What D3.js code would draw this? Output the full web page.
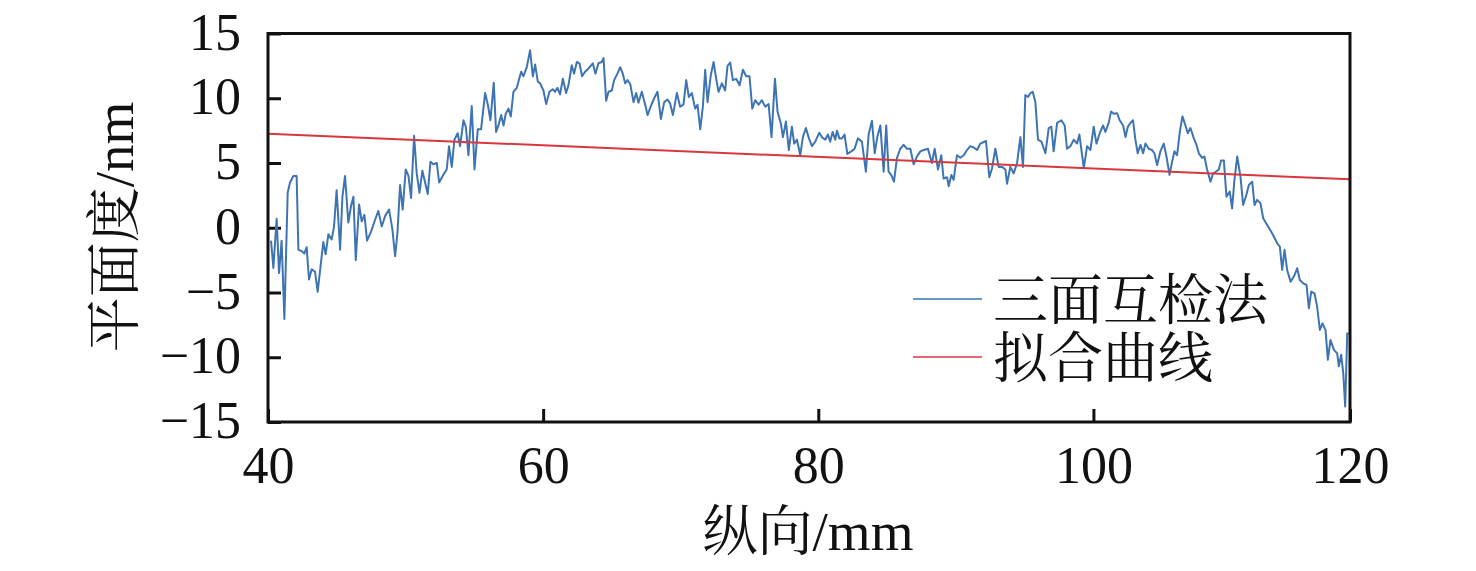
<!DOCTYPE html>
<html>
<head>
<meta charset="utf-8">
<script src="https://cdn.jsdelivr.net/npm/d3@7"></script>
<style>
  body { margin: 0; background: #fff; }
  text { font-family: "Liberation Serif", "Noto Serif CJK SC", "Noto Sans CJK SC", serif; fill: #111; }
</style>
</head>
<body>
<div id="chart"></div>
<script>
// flatness profile: position along the part (mm) and deviation (nm)
const profileMm = [
  40.22, 40.39, 40.63, 40.80, 40.99, 41.19, 41.43, 41.60, 41.84, 42.08,
  42.21, 42.45, 42.64, 42.81, 42.98, 43.18, 43.42, 43.61, 43.85, 44.02,
  44.19, 44.39, 44.63, 44.80, 44.99, 45.24, 45.41, 45.60, 45.84, 46.04,
  46.21, 46.38, 46.62, 46.81, 47.01, 47.20, 47.49, 47.78, 48.02, 48.27,
  48.51, 48.80, 49.04, 49.24, 49.41, 49.60, 49.79, 50.01, 50.21, 50.40,
  50.62, 50.81, 51.01, 51.22, 51.42, 51.61, 51.81, 52.02, 52.27, 52.44,
  52.75, 52.99, 53.16, 53.36, 53.55, 53.79, 53.96, 54.21, 54.38, 54.57,
  54.81, 55.01, 55.25, 55.49, 55.78, 55.98, 56.17, 56.41, 56.58, 56.75,
  56.95, 57.12, 57.28, 57.48, 57.65, 57.84, 58.08, 58.40, 58.57, 58.81,
  59.05, 59.25, 59.42, 59.61,
  59.78, 60.02, 60.22, 60.46, 60.70, 60.87, 61.04, 61.23, 61.43, 61.67,
  61.84, 62.08, 62.25, 62.45, 62.64, 62.83, 63.05, 63.30, 63.61, 63.80,
  64.02, 64.26, 64.39, 64.58, 64.75, 64.99, 65.16, 65.40, 65.60, 65.79,
  65.96, 66.13, 66.33, 66.57, 66.76, 66.93, 67.17, 67.42, 67.59, 67.83,
  68.07, 68.31, 68.56, 68.80, 69.04, 69.23, 69.43, 69.72, 69.96, 70.20,
  70.40, 70.59, 70.81, 71.05, 71.22, 71.42, 71.61, 71.78, 71.95, 72.19,
  72.39, 72.58, 72.75, 72.99, 73.23, 73.40, 73.60, 73.79, 74.03, 74.28,
  74.52, 74.76, 75.00, 75.20, 75.42, 75.66, 75.90, 76.14, 76.39, 76.60,
  76.85, 77.04, 77.28, 77.43, 77.65, 77.86, 78.08, 78.25, 78.45, 78.69,
  78.88, 79.10, 79.32, 79.54,
  79.78, 80.07, 80.26, 80.51, 80.70, 80.87, 81.04, 81.23, 81.36, 81.53,
  81.72, 81.91, 82.11, 82.40, 82.64, 82.88, 83.17, 83.46, 83.66, 83.90,
  84.10, 84.29, 84.51, 84.75, 84.94, 85.11, 85.31, 85.50, 85.72, 85.96,
  86.20, 86.45, 86.69, 86.93, 87.17, 87.42, 87.66, 87.97, 88.26, 88.46,
  88.70, 88.94, 89.11, 89.36, 89.48, 89.67, 89.84, 90.08, 90.33, 90.57,
  90.81, 91.05, 91.30, 91.54, 91.78, 92.19, 92.43, 92.63, 92.87, 93.11,
  93.36, 93.60, 93.72, 93.96, 94.20, 94.45, 94.69, 94.88, 95.05, 95.25,
  95.42, 95.59, 95.78, 95.97, 96.22, 96.51, 96.75, 96.94, 97.11, 97.36,
  97.67, 97.91, 98.08, 98.33, 98.57, 98.81, 98.98, 99.30, 99.54,
  99.78, 100.02, 100.22, 100.46, 100.70, 100.87, 101.11, 101.28, 101.48, 101.72,
  101.91, 102.16, 102.33, 102.50, 102.69, 102.88, 103.05, 103.22, 103.42, 103.61,
  103.78, 104.02, 104.26, 104.43, 104.63, 104.87, 105.11, 105.31, 105.53, 105.72,
  105.89, 106.08, 106.28, 106.47, 106.69, 106.86, 107.05, 107.30, 107.49, 107.66,
  107.90, 108.07, 108.26, 108.51, 108.70, 108.87, 109.11, 109.28, 109.48, 109.67,
  109.91, 110.08, 110.25, 110.45, 110.69, 110.88, 111.08, 111.30, 111.54, 111.71,
  111.90, 112.14, 112.34, 112.63, 112.99, 113.36, 113.55, 113.72, 113.89, 114.08,
  114.33, 114.57, 114.81, 115.00, 115.25, 115.49, 115.66, 115.83, 116.07, 116.26,
  116.46, 116.65, 116.87, 117.04, 117.23, 117.48, 117.72, 117.84, 118.01, 118.16,
  118.30, 118.45, 118.55
];
const profileNm = [
  -1.0, -3.1, 0.7, -3.5, -1.0, -7.05, 2.7, 3.5, 4.0, 4.0,
  -1.7, -1.8, -2.0, -1.5, -4.0, -3.2, -3.4, -4.95, -2.7, -1.1,
  -2.05, -0.5, -0.9, 0.1, 2.9, -1.7, 2.4, 4.0, 0.4, 1.7,
  2.4, -2.5, 1.8, 0.5, 1.0, -1.0, -0.3, 0.6, 1.3, 0.1,
  0.9, 1.4, -0.1, -2.2, -0.4, 3.3, 1.4, 4.5, 4.0, 2.3,
  7.1, 4.2, 2.7, 4.4, 3.5, 2.6, 5.1, 4.9, 5.0, 3.5,
  4.1, 4.5, 6.3, 4.7, 6.8, 7.3, 6.3, 8.3, 7.8, 5.6,
  9.4, 4.5, 7.6, 7.6, 10.4, 9.5, 8.3, 11.2, 7.4, 7.9,
  8.7, 7.9, 8.8, 9.2, 8.6, 10.5, 10.8, 12.05, 11.7, 12.4,
  13.7, 11.7, 12.6, 11.3,
  11.15, 10.6, 9.55, 10.5, 10.7, 10.5, 10.8, 10.3, 11.5, 10.4,
  11.0, 12.55, 11.9, 12.8, 12.7, 11.7, 12.05, 12.3, 12.7, 11.9,
  12.7, 12.8, 13.1, 9.8, 10.5, 10.6, 11.4, 11.9, 12.4, 11.9,
  11.15, 11.4, 11.1, 9.7, 10.4, 9.65, 10.5, 9.5, 8.7, 9.4,
  10.0, 10.5, 8.4, 9.7, 9.9, 9.6, 8.7, 10.4, 9.35, 9.5,
  11.4, 10.1, 10.4, 9.2, 9.5, 7.6, 9.35, 12.2, 9.7, 11.8,
  12.8, 11.5, 10.5, 11.15, 10.6, 12.5, 12.75, 11.4, 11.5, 11.0,
  12.2, 11.7, 11.7, 9.2, 9.85, 9.5, 9.85, 9.35, 9.55, 7.0,
  11.5, 8.95, 8.05, 7.0, 8.2, 6.0, 7.8, 6.5, 6.8, 5.6,
  7.0, 7.7, 6.9, 6.3,
  6.65, 7.34, 7.0, 6.8, 7.2, 6.65, 7.4, 6.8, 7.5, 6.9,
  6.9, 7.2, 5.7, 5.9, 6.1, 6.9, 6.65, 4.33, 7.2, 8.27,
  5.75, 7.0, 7.9, 4.33, 7.9, 4.33, 4.07, 3.56, 5.4, 6.1,
  6.4, 6.1, 6.1, 4.9, 5.5, 5.9, 6.0, 6.1, 5.0, 6.1,
  4.5, 5.6, 3.8, 3.9, 3.2, 4.07, 3.7, 5.6, 5.4, 5.6,
  6.0, 6.3, 6.2, 6.0, 6.5, 6.7, 3.9, 4.6, 6.1, 4.7,
  4.7, 4.5, 3.4, 4.7, 4.2, 5.0, 7.0, 4.7, 10.25, 10.1,
  10.4, 10.5, 9.7, 6.8, 6.65, 5.75, 7.7, 7.8, 5.9, 8.1,
  8.3, 7.9, 6.1, 6.3, 6.8, 6.5, 7.2, 4.6, 6.3,
  6.0, 7.8, 6.5, 7.3, 7.9, 7.4, 8.1, 8.97, 8.8, 8.84,
  8.3, 7.9, 7.0, 7.8, 8.1, 8.3, 6.8, 5.75, 6.4, 5.75,
  6.5, 6.1, 6.0, 5.75, 4.85, 5.9, 6.5, 5.5, 4.08, 5.1,
  5.9, 5.6, 7.4, 8.6, 7.9, 7.3, 7.7, 6.9, 6.4, 5.75,
  5.4, 5.5, 4.5, 3.56, 4.2, 4.3, 4.5, 5.2, 5.2, 2.4,
  2.8, 1.5, 3.7, 5.5, 3.95, 1.76, 2.4, 3.3, 3.56, 1.76,
  2.15, 1.9, 0.73, 0.22, -0.43, -1.2, -1.46, -3.26, -1.7, -3.26,
  -4.16, -3.77, -3.13, -4.03, -4.29, -4.42, -6.22, -4.93, -5.06, -6.09,
  -7.89, -7.38, -7.89, -10.2, -8.66, -9.43, -9.7, -10.7, -9.8, -11.24,
  -13.81, -8.15, -8.2
];
// linear fit, end points
const fitMm = [40, 118.65];
const fitNm = [7.26, 3.74];

const xTicks = [40, 60, 80, 100, 120];
const yTicks = [-15, -10, -5, 0, 5, 10, 15];
const seriesNames = ["三面互检法", "拟合曲线"];
const seriesColors = ["#3f74b2", "#d8373d"];

const width = 1476, height = 571;
const margin = { top: 33.5, right: 126, bottom: 149, left: 268 };
const innerW = width - margin.left - margin.right;
const innerH = height - margin.top - margin.bottom;

const svg = d3.select("#chart").append("svg")
  .attr("width", width)
  .attr("height", height);

const g = svg.append("g")
  .attr("transform", `translate(${margin.left},${margin.top})`);

// the frame stops a little short of 120, the last label sits on the frame
const x = d3.scaleLinear().domain([40, 118.65]).range([0, innerW]).clamp(true);
const y = d3.scaleLinear().domain([-15, 15]).range([innerH, 0]);

const tickFont = 52;

const xAxis = g.append("g")
  .attr("transform", `translate(0,${innerH})`)
  .call(d3.axisBottom(x).tickValues(xTicks).tickSize(-13).tickPadding(24).tickFormat(d3.format("d")));
xAxis.select(".domain").remove();
xAxis.selectAll(".tick line").attr("stroke", "#111").attr("stroke-width", 3);
xAxis.selectAll(".tick text").attr("font-size", tickFont).attr("fill", "#111")
  .style("font-family", "Liberation Serif, serif");

const yAxis = g.append("g")
  .call(d3.axisLeft(y).tickValues(yTicks).tickSize(-13).tickPadding(27).tickFormat(d3.format("d")));
yAxis.select(".domain").remove();
yAxis.selectAll(".tick line").attr("stroke", "#111").attr("stroke-width", 3);
yAxis.selectAll(".tick text").attr("font-size", tickFont).attr("fill", "#111").attr("dy", "0.3em")
  .style("font-family", "Liberation Serif, serif");

// measured profile
const line = d3.line().x(d => x(d[0])).y(d => y(d[1]));
g.append("path")
  .datum(d3.zip(profileMm, profileNm))
  .attr("fill", "none")
  .attr("stroke", seriesColors[0])
  .attr("stroke-width", 2)
  .attr("stroke-linejoin", "round")
  .attr("d", line);

// fitted line
g.append("path")
  .datum(d3.zip(fitMm, fitNm))
  .attr("fill", "none")
  .attr("stroke", seriesColors[1])
  .attr("stroke-width", 2)
  .attr("d", line);

// frame
g.append("rect")
  .attr("width", innerW)
  .attr("height", innerH)
  .attr("fill", "none")
  .attr("stroke", "#111")
  .attr("stroke-width", 3);

// legend
const legend = svg.append("g").attr("transform", "translate(913,299)");
seriesNames.forEach((name, i) => {
  const row = legend.append("g").attr("transform", `translate(0,${i * 58})`);
  row.append("line")
    .attr("x1", 0).attr("x2", 69)
    .attr("stroke", seriesColors[i])
    .attr("stroke-width", 1.6);
  row.append("text")
    .attr("x", 80)
    .attr("dy", "0.36em")
    .attr("font-size", 55)
    .text(name);
});

// axis titles
svg.append("text")
  .attr("x", 808)
  .attr("y", 530)
  .attr("dy", "0.36em")
  .attr("text-anchor", "middle")
  .attr("font-size", 55)
  .text("纵向/mm");

svg.append("text")
  .attr("transform", "translate(113,227) rotate(-90)")
  .attr("dy", "0.36em")
  .attr("text-anchor", "middle")
  .attr("font-size", 55)
  .text("平面度/nm");
</script>
</body>
</html>
